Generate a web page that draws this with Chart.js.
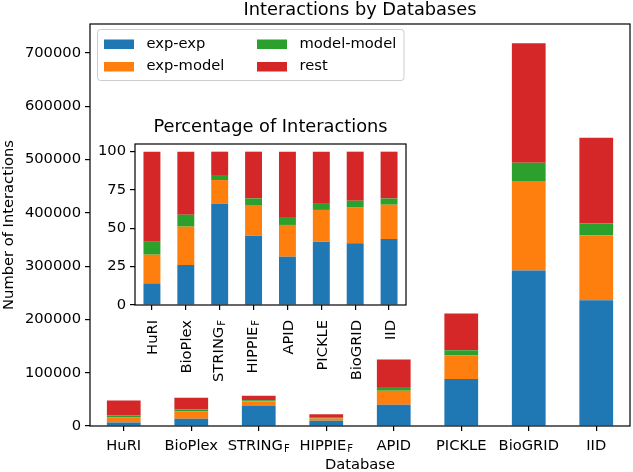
<!DOCTYPE html>
<html>
<head>
<meta charset="utf-8">
<title>Interactions by Databases</title>
<script src="https://cdn.jsdelivr.net/npm/chart.js@4.4.0/dist/chart.umd.min.js"></script>
<style>
    html, body { margin: 0; padding: 0; background: #fff; }
    #wrap { position: relative; width: 633px; height: 472px; }
    #wrap canvas { position: absolute; left: 0; top: 0; }
</style>
</head>
<body>
<div id="wrap">
    <canvas id="mainChart" width="633" height="472"></canvas>
    <canvas id="insetChart" width="633" height="472"></canvas>
</div>
<script>
// Categories and subscripts (STRING_F, HIPPIE_F)
const databases = ['HuRI', 'BioPlex', 'STRING', 'HIPPIE', 'APID', 'PICKLE', 'BioGRID', 'IID'];
const subscripts = ['', '', 'F', 'F', '', '', '', ''];

const seriesNames = ['exp-exp', 'exp-model', 'model-model', 'rest'];
const seriesColors = ['#1f77b4', '#ff7f0e', '#2ca02c', '#d62728'];

// Number of interactions per database
const expExp     = [6800, 13800, 37600, 9900, 39700, 88000, 292000, 236000];
const expModel   = [9000, 13300, 8900, 4400, 26500, 44500, 168000, 121500];
const modelModel = [4000, 4100, 1900, 1000, 6900, 9700, 34000, 22500];
const rest       = [28200, 21800, 8600, 6700, 51900, 69100, 224700, 161300];

// Percentage of interactions per database
const pctExpExp     = [14.1, 26.1, 65.9, 45.2, 31.5, 41.3, 40.2, 43.0];
const pctExpModel   = [18.7, 25.0, 15.6, 20.0, 20.7, 20.7, 23.3, 22.4];
const pctModelModel = [8.5, 7.8, 3.3, 4.3, 5.2, 4.5, 4.5, 4.1];
const pctRest       = [58.7, 41.1, 15.2, 30.5, 42.6, 33.5, 32.0, 30.5];

// Tick labels
const countTicks = [0, 100000, 200000, 300000, 400000, 500000, 600000, 700000];
const countMax = 754600;
const pctTicks = [0, 25, 50, 75, 100];
const pctMax = 105;

const FONT = '"DejaVu Sans", sans-serif';
const FS = 14.7;
const TITLE_FS = 17.8;
const SUB_FS = 10;
const LW = 1.2;

// draw a label with an optional subscript; rotated labels end at (x, y)
const drawLabel = (ctx, text, sub, x, y, rotated) => {
    ctx.save();
    ctx.translate(x, y);
    if (rotated) ctx.rotate(-Math.PI / 2);
    ctx.fillStyle = '#000';
    ctx.textBaseline = 'alphabetic';
    ctx.textAlign = 'left';
    ctx.font = `${FS}px ${FONT}`;
    const w1 = ctx.measureText(text).width;
    ctx.font = `${SUB_FS}px ${FONT}`;
    const w2 = sub ? ctx.measureText(sub).width + 1 : 0;
    const start = rotated ? -(w1 + w2) : -(w1 + w2) / 2;
    ctx.font = `${FS}px ${FONT}`;
    ctx.fillText(text, start, 0);
    if (sub) {
        ctx.font = `${SUB_FS}px ${FONT}`;
        ctx.fillText(sub, start + w1 + 1, 1.5);
    }
    ctx.restore();
};

const framePlugin = {
    id: 'frame',
    beforeDraw: chart => {
        const { ctx, chartArea: a } = chart;
        ctx.save();
        ctx.fillStyle = '#fff';
        ctx.fillRect(a.left, a.top, a.right - a.left, a.bottom - a.top);
        ctx.restore();
    },
    afterDraw: chart => {
        const { ctx, chartArea: a } = chart;
        ctx.save();
        ctx.strokeStyle = '#000';
        ctx.lineWidth = LW;
        ctx.strokeRect(a.left, a.top, a.right - a.left, a.bottom - a.top);
        ctx.restore();
    }
};

const mainLabels = {
    id: 'mainLabels',
    afterDraw: chart => {
        const xs = chart.scales.x;
        databases.forEach((d, i) => drawLabel(chart.ctx, d, subscripts[i], xs.getPixelForValue(i), 450, false));
    }
};

const insetLabels = {
    id: 'insetLabels',
    afterDraw: chart => {
        const xs = chart.scales.x;
        databases.forEach((d, i) => {
            const shift = subscripts[i] ? 3.5 : 5.5;
            drawLabel(chart.ctx, d, subscripts[i], xs.getPixelForValue(i) + shift, 320, true);
        });
    }
};

// legend in the upper left corner of the main axes, two columns
const legendPlugin = {
    id: 'insideLegend',
    afterDraw: chart => {
        const ctx = chart.ctx;
        ctx.save();
        ctx.beginPath();
        ctx.roundRect(97.5, 29.5, 306.5, 51, 3);
        ctx.fillStyle = 'rgba(255,255,255,0.8)';
        ctx.fill();
        ctx.strokeStyle = '#cccccc';
        ctx.lineWidth = 1;
        ctx.stroke();
        const cols = [104, 257];
        const rows = [44, 66.5];
        ctx.font = `${FS}px ${FONT}`;
        ctx.textBaseline = 'middle';
        ctx.textAlign = 'left';
        seriesNames.forEach((name, i) => {
            const cx = cols[Math.floor(i / 2)];
            const cy = rows[i % 2];
            ctx.fillStyle = seriesColors[i];
            ctx.fillRect(cx, cy - 4.5, 30, 9.5);
            ctx.fillStyle = '#000';
            ctx.fillText(name, cx + 42.5, cy);
        });
        ctx.restore();
    }
};

const axisGrid = { display: true, drawOnChartArea: false, drawTicks: true, tickLength: 5, offset: false, color: '#000', lineWidth: LW };

const makeDatasets = series => seriesNames.map((name, i) => ({
    label: name,
    data: series[i],
    backgroundColor: seriesColors[i],
    borderWidth: 0,
    barPercentage: 0.5,
    categoryPercentage: 1
}));

Chart.defaults.font.family = FONT;
Chart.defaults.color = '#000';

// Main chart: number of interactions
new Chart(document.getElementById('mainChart'), {
    type: 'bar',
    data: { labels: databases, datasets: makeDatasets([expExp, expModel, modelModel, rest]) },
    options: {
        responsive: false,
        animation: false,
        events: [],
        layout: { padding: { left: 0, right: 3, top: 0, bottom: 0 } },
        plugins: {
            legend: { display: false },
            tooltip: { enabled: false },
            title: {
                display: true, text: 'Interactions by Databases', fullSize: false, color: '#000',
                font: { size: TITLE_FS, weight: 'normal', lineHeight: 1 },
                padding: { top: 1.6, bottom: 4.6 }
            }
        },
        scales: {
            x: {
                stacked: true,
                offset: true,
                grid: axisGrid,
                border: { display: false },
                ticks: { color: 'rgba(0,0,0,0)', font: { size: FS }, maxRotation: 0, autoSkip: false },
                title: { display: true, text: 'Database', color: '#000', font: { size: FS, lineHeight: 1.2 }, padding: { top: 0, bottom: -1.5 } },
                afterFit: s => { s.height = 46; }
            },
            y: {
                stacked: true,
                min: 0,
                max: countMax,
                grid: axisGrid,
                border: { display: false },
                afterBuildTicks: s => { s.ticks = countTicks.map(v => ({ value: v })); },
                ticks: { color: '#000', font: { size: FS }, padding: 4, callback: v => String(v) },
                title: { display: true, text: 'Number of Interactions', color: '#000', font: { size: FS, lineHeight: 1.2 }, padding: 0 },
                afterFit: s => { s.width = 90; }
            }
        }
    },
    plugins: [framePlugin, mainLabels, legendPlugin]
});

// Inset chart: percentage of interactions
new Chart(document.getElementById('insetChart'), {
    type: 'bar',
    data: { labels: databases, datasets: makeDatasets([pctExpExp, pctExpModel, pctModelModel, pctRest]) },
    options: {
        responsive: false,
        animation: false,
        events: [],
        layout: { padding: { left: 95, right: 227, top: 118.6, bottom: 87 } },
        plugins: {
            legend: { display: false },
            tooltip: { enabled: false },
            title: {
                display: true, text: 'Percentage of Interactions', fullSize: false, color: '#000',
                font: { size: TITLE_FS, weight: 'normal', lineHeight: 1 },
                padding: { top: 0, bottom: 7.6 }
            }
        },
        scales: {
            x: {
                stacked: true,
                offset: true,
                grid: axisGrid,
                border: { display: false },
                ticks: { color: 'rgba(0,0,0,0)', font: { size: FS }, maxRotation: 0, autoSkip: false },
                afterFit: s => { s.height = 80; }
            },
            y: {
                stacked: true,
                min: 0,
                max: pctMax,
                grid: axisGrid,
                border: { display: false },
                afterBuildTicks: s => { s.ticks = pctTicks.map(v => ({ value: v })); },
                ticks: { color: '#000', font: { size: FS }, padding: 4, callback: v => String(v) },
                afterFit: s => { s.width = 40; }
            }
        }
    },
    plugins: [framePlugin, insetLabels]
});
</script>
</body>
</html>
